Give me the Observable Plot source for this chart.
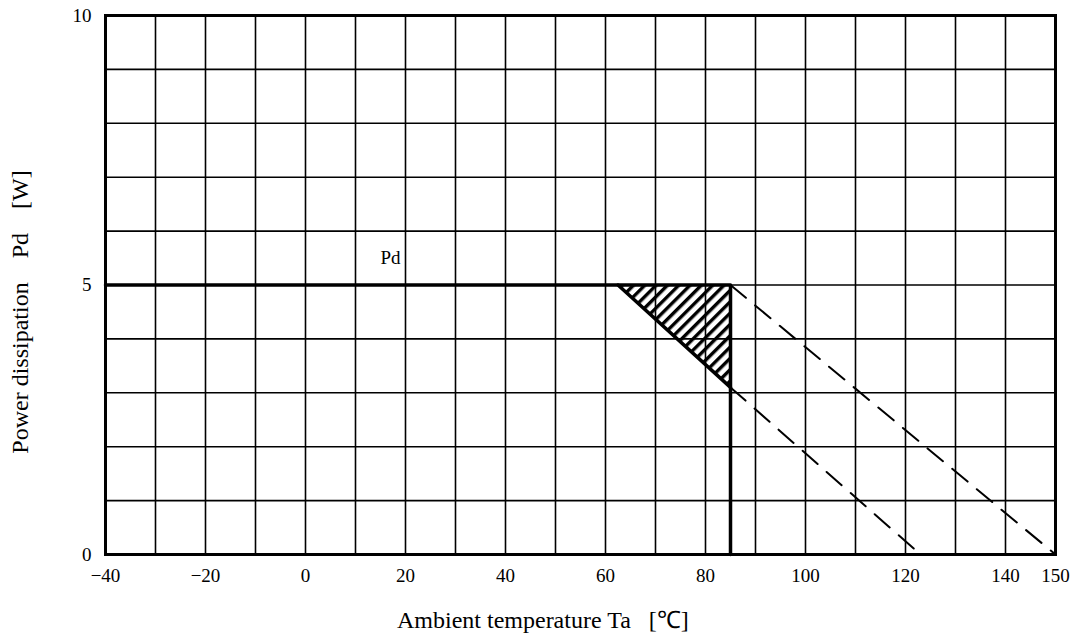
<!DOCTYPE html>
<html><head><meta charset="utf-8">
<script src="https://cdn.jsdelivr.net/npm/d3@7"></script>
<script src="https://cdn.jsdelivr.net/npm/@observablehq/plot@0.6"></script>
<style>
body{margin:0;background:#fff;}
#chart{position:relative;width:1079px;height:640px;}
#chart svg text{font-family:"Liberation Serif","Times New Roman",serif !important;font-size:19px !important;}
.ttl{position:absolute;font-family:"Liberation Serif","Times New Roman",serif;font-size:24px;color:#000;white-space:pre;line-height:1;}
</style>
</head><body>
<div id="chart"></div>
<script>
// Data
const pdCurve = [{ta:-40,pd:5},{ta:85,pd:5},{ta:85,pd:0}];
const hatchTri = [{ta:62.5,top:5,bottom:5},{ta:85,top:5,bottom:3.1}];
const dashUpper = [{ta:85,pd:5},{ta:150,pd:0}];
const dashLower = [{ta:85,pd:3.1},{ta:123,pd:0}];
const xTicks = [-40,-20,0,20,40,60,80,100,120,140,150];
const yTicks = [0,5,10];
const xGrid = d3.range(-40,151,10);
const yGrid = d3.range(0,11,1);
const pdLabel = [{ta:17,pd:5.5,text:"Pd"}];

const plot = Plot.plot({
  width:1079, height:640,
  marginLeft:105, marginRight:24, marginTop:15, marginBottom:86,
  x:{domain:[-40,150]},
  y:{domain:[0,10]},
  style:{background:"#fff", color:"#000"},
  marks:[
    Plot.ruleX(xGrid,{stroke:"#000",strokeWidth:1.6}),
    Plot.ruleY(yGrid,{stroke:"#000",strokeWidth:1.6}),
    Plot.frame({stroke:"#000",strokeWidth:3}),
    Plot.areaY(hatchTri,{x:"ta",y1:"bottom",y2:"top",fill:"url(#hatch)",curve:"linear"}),
    Plot.line([hatchTri[0],{ta:85,top:3.1}],{x:"ta",y:"top",stroke:"#000",strokeWidth:3.5}),
    Plot.line(dashUpper,{x:"ta",y:"pd",stroke:"#000",strokeWidth:2,strokeDasharray:"20,12"}),
    Plot.line(dashLower,{x:"ta",y:"pd",stroke:"#000",strokeWidth:2,strokeDasharray:"20,12"}),
    Plot.line(pdCurve,{x:"ta",y:"pd",stroke:"#000",strokeWidth:3.5}),
    Plot.text(pdLabel,{x:"ta",y:"pd",text:"text",fill:"#000"}),
    Plot.axisX(xTicks,{tickSize:0,tickPadding:14,tickFormat:d=>d<0?"\u2212"+Math.abs(d):String(d),label:null}),
    Plot.axisY(yTicks,{tickSize:0,tickPadding:14,tickFormat:d=>String(d),label:null})
  ]
});

const svg = d3.select(plot);
const defs = svg.insert("defs",":first-child");
const pat = defs.append("pattern").attr("id","hatch").attr("patternUnits","userSpaceOnUse")
  .attr("width",8).attr("height",8).attr("patternTransform","rotate(45)");
pat.append("rect").attr("x",0).attr("y",0).attr("width",3.4).attr("height",8).attr("fill","#000");

const chart = document.getElementById("chart");
chart.appendChild(plot);

const xt = document.createElement("div");
xt.className="ttl";
xt.style.left="397px"; xt.style.top="608px";
xt.textContent="Ambient temperature Ta\u2002 [\u2103]";
chart.appendChild(xt);

const yt = document.createElement("div");
yt.className="ttl";
yt.style.left="20px"; yt.style.top="312px";
yt.style.transform="translate(-50%,-50%) rotate(-90deg)";
yt.textContent="Power dissipation\u2003Pd\u2003[W]";
chart.appendChild(yt);
</script>
</body></html>
